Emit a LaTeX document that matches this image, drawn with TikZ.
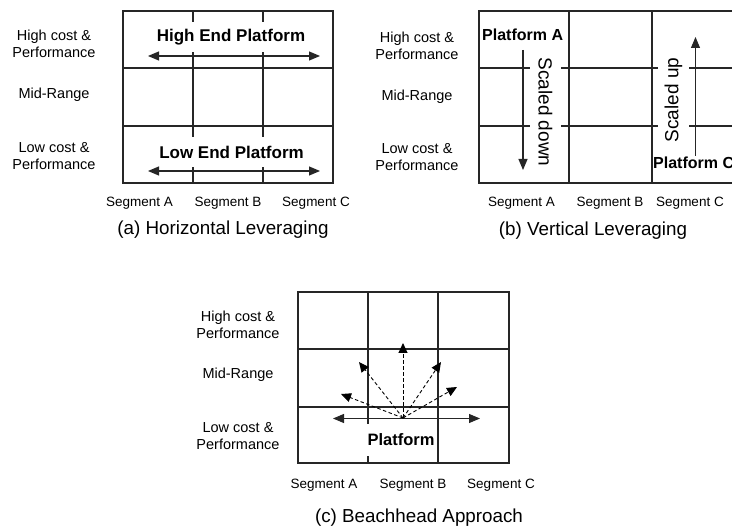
\documentclass[tikz,border=0pt]{standalone}
\usepackage{fontspec}
\setmainfont{Liberation Sans}
\usetikzlibrary{arrows.meta}
\begin{document}
\begin{tikzpicture}[x=1pt,y=-1pt,
  >={Triangle[length=11pt,width=9pt]},
  grid/.style={line width=1.1pt, draw=black!85},
  rowlab/.style={align=center, font=\fontsize{14.5}{17.5}\selectfont, inner sep=0pt},
  seglab/.style={font=\fontsize{13.5}{16}\selectfont, inner sep=0pt},
  caplab/.style={font=\fontsize{18.8}{22}\selectfont, inner sep=0pt},
  platlab/.style={font=\bfseries\fontsize{17}{20}\selectfont, fill=white, inner xsep=2pt, minimum height=30pt},
  platsmall/.style={font=\bfseries\fontsize{16}{19}\selectfont, inner sep=0pt},
  scaledlab/.style={font=\fontsize{19}{22}\selectfont, fill=white, inner xsep=3pt, minimum height=31pt},
  solidarrow/.style={line width=1.1pt, draw=black!85},
  dasharrow/.style={line width=0.9pt, dash pattern=on 3.5pt off 2.5pt, -{Triangle[length=10pt,width=9pt]}}
]
\useasboundingbox (0,0) rectangle (732,529);
\clip (0,0) rectangle (732,529);

% ---------------- (a) Horizontal Leveraging
\draw[grid] (123,11) rectangle (333,183);
\draw[grid] (123,68) -- (333,68) (123,126) -- (333,126);
\draw[grid] (193,11) -- (193,183) (263,11) -- (263,183);
\node[rowlab] (a1) at (54,44) {High cost \&\\Performance};
\node[rowlab] (a2) at (54,95) {Mid-Range};
\node[rowlab] (a3) at (54,156) {Low cost \&\\Performance};
\node[platlab] (ahigh) at (231,37) {High End Platform};
\node[platlab] (alow) at (231.5,152) {Low End Platform};
\coordinate (ah1) at (148,56); \coordinate (ah2) at (320,56);
\coordinate (al1) at (148,171); \coordinate (al2) at (320,171);
\draw[solidarrow, <->] (ah1) -- (ah2);
\draw[solidarrow, <->] (al1) -- (al2);
\node[seglab] (asa) at (139.5,203) {Segment A};
\node[seglab] (asb) at (228,203) {Segment B};
\node[seglab] (asc) at (316,203) {Segment C};
\node[caplab] (acap) at (223,230) {(a) Horizontal Leveraging};

% ---------------- (b) Vertical Leveraging
\draw[grid] (479,11) rectangle (745,183);
\draw[grid] (479,68) -- (745,68) (479,126) -- (745,126);
\draw[grid] (569,11) -- (569,183) (652,11) -- (652,183);
\node[rowlab] (b1) at (417,46) {High cost \&\\Performance};
\node[rowlab] (b2) at (417,97) {Mid-Range};
\node[rowlab] (b3) at (417,157) {Low cost \&\\Performance};
\node[scaledlab, rotate=-90] (bdown) at (545.5,112) {Scaled down};
\node[scaledlab, rotate=90] (bup) at (673.5,100) {Scaled up};
\node[platsmall, anchor=west] (bpa) at (482,35) {Platform A};
\node[platsmall, anchor=west] (bpc) at (653,163) {Platform C};
\coordinate (bd1) at (523,50); \coordinate (bd2) at (523,170);
\coordinate (bu1) at (695.5,156); \coordinate (bu2) at (695.5,37);
\draw[solidarrow, ->] (bd1) -- (bd2);
\draw[solidarrow, ->] (bu1) -- (bu2);
\node[seglab] (bsa) at (521.5,203) {Segment A};
\node[seglab] (bsb) at (610,203) {Segment B};
\node[seglab] (bsc) at (690,203) {Segment C};
\node[caplab] (bcap) at (593,231) {(b) Vertical Leveraging};

% ---------------- (c) Beachhead Approach
\draw[grid] (298,292) rectangle (509,463);
\draw[grid] (298,349) -- (509,349) (298,407) -- (509,407);
\draw[grid] (368,292) -- (368,463) (438,292) -- (438,463);
\node[rowlab] (c1) at (238,325) {High cost \&\\Performance};
\node[rowlab] (c2) at (238,375) {Mid-Range};
\node[rowlab] (c3) at (238,436) {Low cost \&\\Performance};
\node[platlab, font=\bfseries\fontsize{16.5}{19}\selectfont, minimum height=32pt] (cplat) at (401,440) {Platform};
\coordinate (c0) at (403,418);
\coordinate (ch1) at (333,418.5); \coordinate (ch2) at (480,418.5);
\draw[solidarrow, <->] (ch1) -- (ch2);
\coordinate (ce1) at (341,394);
\coordinate (ce2) at (359,362);
\coordinate (ce3) at (403,343);
\coordinate (ce4) at (441,362);
\coordinate (ce5) at (457,387);
\foreach \e in {ce1,ce2,ce3,ce4,ce5}
  \draw[dasharrow] (c0) -- (\e);
\node[seglab] (csa) at (324,485) {Segment A};
\node[seglab] (csb) at (413,485) {Segment B};
\node[seglab] (csc) at (501,485) {Segment C};
\node[caplab] (ccap) at (419,518) {(c) Beachhead Approach};
\end{tikzpicture}
\end{document}
